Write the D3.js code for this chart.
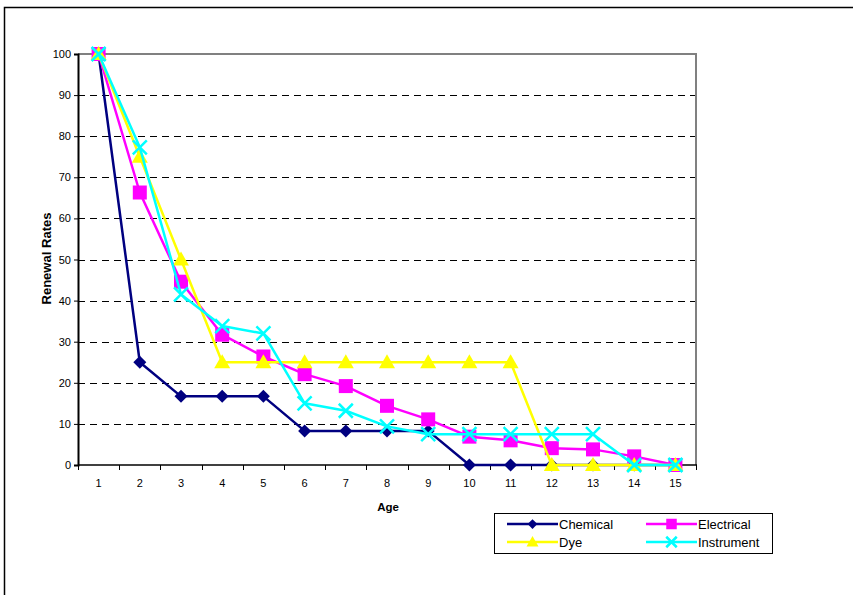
<!DOCTYPE html>
<html>
<head>
<meta charset="utf-8">
<script src="https://cdn.jsdelivr.net/npm/d3@7"></script>
<style>
  html, body { margin: 0; padding: 0; background: #fff; }
  svg { display: block; font-family: "Liberation Sans", Arial, sans-serif; }
</style>
</head>
<body>
<svg id="chart" width="853" height="595"></svg>
<script>
// Renewal rates (%) by age for each industry group
const ages = [1, 2, 3, 4, 5, 6, 7, 8, 9, 10, 11, 12, 13, 14, 15];
const chemical   = [100, 25, 16.7, 16.7, 16.7, 8.3, 8.3, 8.3, 8.3, 0, 0, 0, 0, 0, 0];
const electrical = [100, 66.3, 44.6, 31.7, 26.4, 22.1, 19.2, 14.4, 11.1, 6.9, 6.0, 4.1, 3.8, 2.1, 0];
const dye        = [100, 75, 50, 25, 25, 25, 25, 25, 25, 25, 25, 0, 0, 0, 0];
const instrument = [100, 77.3, 41.5, 33.8, 32.0, 15.0, 13.2, 9.4, 7.5, 7.5, 7.5, 7.5, 7.5, 0, 0];
const yTicks = [0, 10, 20, 30, 40, 50, 60, 70, 80, 90, 100];

const series = [
  { name: "Chemical",   values: chemical,   color: "#000080", marker: "diamond" },
  { name: "Electrical", values: electrical, color: "#FF00FF", marker: "square" },
  { name: "Dye",        values: dye,        color: "#FFFF00", marker: "triangle" },
  { name: "Instrument", values: instrument, color: "#00FFFF", marker: "cross" }
];

const svg = d3.select("#chart");

// outer chart frame (runs off the right and bottom edges)
svg.append("rect")
  .attr("x", 4.5).attr("y", 7.5).attr("width", 900).attr("height", 700)
  .attr("fill", "none").attr("stroke", "#000").attr("stroke-width", 1.5);

const plot = { left: 78, top: 54, right: 696, bottom: 465 };

const x = d3.scaleBand().domain(ages).range([plot.left, plot.right]).padding(0);
const y = d3.scaleLinear().domain([0, 100]).range([plot.bottom, plot.top]);
const cx = d => x(d) + x.bandwidth() / 2;

// dashed horizontal gridlines
svg.append("g").selectAll("line")
  .data(yTicks.filter(t => t > 0 && t < 100))
  .join("line")
  .attr("x1", plot.left).attr("x2", plot.right)
  .attr("y1", d => Math.round(y(d)) + 0.5).attr("y2", d => Math.round(y(d)) + 0.5)
  .attr("stroke", "#000").attr("stroke-width", 1)
  .attr("stroke-dasharray", "7,5");

// gray plot border on top and right
svg.append("path")
  .attr("d", `M${plot.left},${plot.top}H${plot.right}V${plot.bottom}`)
  .attr("fill", "none").attr("stroke", "#808080").attr("stroke-width", 2);

// y axis
const yAxis = svg.append("g")
  .attr("transform", `translate(${plot.left},0)`)
  .call(d3.axisLeft(y).tickValues(yTicks).tickSize(4).tickPadding(3));
yAxis.select(".domain").attr("stroke", "#000").attr("stroke-width", 2);
yAxis.selectAll(".tick line").attr("stroke", "#000");
yAxis.selectAll(".tick text")
  .attr("font-size", 11).attr("fill", "#000")
  .attr("font-family", "Liberation Sans, Arial, sans-serif");

// x axis: ticks sit between categories
const xAxisG = svg.append("g").attr("transform", `translate(0,${plot.bottom})`);
xAxisG.append("line")
  .attr("x1", plot.left).attr("x2", plot.right + 1)
  .attr("stroke", "#000").attr("stroke-width", 1.5);
xAxisG.selectAll("line.tk")
  .data(ages.concat([ages.length + 1]))
  .join("line").attr("class", "tk")
  .attr("x1", (d, i) => Math.round(plot.left + i * x.bandwidth()) + 0.5)
  .attr("x2", (d, i) => Math.round(plot.left + i * x.bandwidth()) + 0.5)
  .attr("y1", 0).attr("y2", 5)
  .attr("stroke", "#000");
xAxisG.selectAll("text")
  .data(ages)
  .join("text")
  .attr("x", d => cx(d)).attr("y", 22)
  .attr("text-anchor", "middle")
  .attr("font-size", 11).attr("fill", "#000")
  .text(d => d);

// axis titles
svg.append("text")
  .attr("transform", `translate(51,${(plot.top + plot.bottom) / 2 - 1}) rotate(-90)`)
  .attr("text-anchor", "middle")
  .attr("font-size", 12).attr("font-weight", "bold")
  .attr("textLength", 92).attr("lengthAdjust", "spacingAndGlyphs")
  .text("Renewal Rates");
svg.append("text")
  .attr("x", (plot.left + plot.right) / 2 + 1).attr("y", 511)
  .attr("text-anchor", "middle")
  .attr("font-size", 11.5).attr("font-weight", "bold")
  .text("Age");

// marker shapes
function drawMarker(g, type, color, k) {
  if (type === "diamond") {
    g.append("path").attr("d", `M0,${-6.5*k}L${6.5*k},0L0,${6.5*k}L${-6.5*k},0Z`).attr("fill", color);
  } else if (type === "square") {
    g.append("rect").attr("x", -7*k).attr("y", -7*k).attr("width", 14*k).attr("height", 14*k).attr("fill", color);
  } else if (type === "triangle") {
    g.append("path").attr("d", `M0,${-8*k}L${8*k},${6*k}L${-8*k},${6*k}Z`).attr("fill", color);
  } else if (type === "cross") {
    g.append("path").attr("d", `M${-7*k},${-7*k}L${7*k},${7*k}M${-7*k},${7*k}L${7*k},${-7*k}`)
      .attr("stroke", color).attr("stroke-width", 2.5).attr("fill", "none");
  }
}

const line = d3.line().x((d, i) => cx(ages[i])).y(d => y(d));

series.forEach(s => {
  const g = svg.append("g");
  g.append("path")
    .attr("d", line(s.values))
    .attr("fill", "none").attr("stroke", s.color).attr("stroke-width", 2.5)
    .attr("stroke-linejoin", "round");
  s.values.forEach((v, i) => {
    const m = g.append("g").attr("transform", `translate(${cx(ages[i])},${y(v)})`);
    drawMarker(m, s.marker, s.color, 1);
  });
});

// legend
const legend = svg.append("g");
legend.append("rect")
  .attr("x", 494.5).attr("y", 513.5).attr("width", 278).attr("height", 40)
  .attr("fill", "#fff").attr("stroke", "#000").attr("stroke-width", 1);
const legendPos = [
  { x: 507, y: 524 }, { x: 646, y: 524 },
  { x: 507, y: 542 }, { x: 646, y: 542 }
];
series.forEach((s, i) => {
  const p = legendPos[i];
  const g = legend.append("g");
  g.append("line")
    .attr("x1", p.x).attr("x2", p.x + 51).attr("y1", p.y).attr("y2", p.y)
    .attr("stroke", s.color).attr("stroke-width", 2.5);
  const m = g.append("g").attr("transform", `translate(${p.x + 25.5},${p.y})`);
  drawMarker(m, s.marker, s.color, 0.75);
  g.append("text")
    .attr("x", p.x + 52).attr("y", p.y + 4.5)
    .attr("font-size", 13).attr("fill", "#000")
    .text(s.name);
});
</script>
</body>
</html>
